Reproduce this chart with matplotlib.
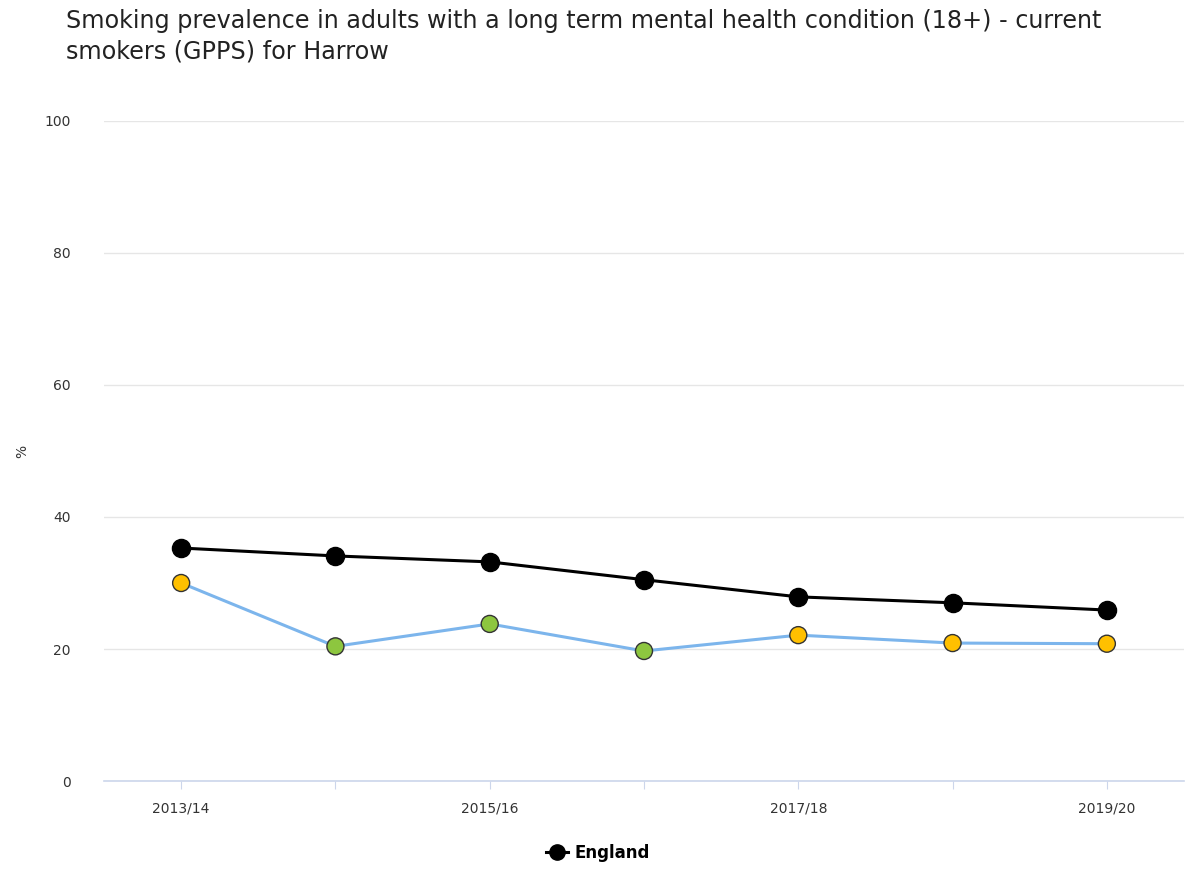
import numpy as np
import matplotlib
matplotlib.use("Agg")
import matplotlib.pyplot as plt
from matplotlib.lines import Line2D

periods = ["2013/14", "2014/15", "2015/16", "2016/17", "2017/18", "2018/19", "2019/20"]
england = [35.3, 34.1, 33.2, 30.5, 27.9, 27.0, 25.9]
harrow = [30.0, 20.4, 23.8, 19.7, 22.1, 20.9, 20.8]
harrow_colors = ["#ffc000", "#8dc63f", "#8dc63f", "#8dc63f", "#ffc000", "#ffc000", "#ffc000"]
yticks = [0, 20, 40, 60, 80, 100]

fig = plt.figure(figsize=(11.88, 8.71), dpi=100)
ax = fig.add_axes([104 / 1188, 1 - 781 / 871, 1080 / 1188, 660 / 871])

x = np.arange(len(periods))

ax.plot(x, harrow, color="#7cb5ec", lw=2.2, zorder=2)
ax.scatter(x, harrow, s=150, c=harrow_colors, edgecolors="#333333", linewidths=1.0, zorder=3)

ax.plot(x, england, color="black", lw=2.2, zorder=4)
ax.scatter(x, england, s=170, c="black", edgecolors="black", zorder=5)

ax.set_xlim(-0.5, len(periods) - 0.5)
ax.set_ylim(0, 100)
ax.set_yticks(yticks)
ax.set_yticklabels([str(v) for v in yticks])
ax.set_xticks(x)
ax.set_xticklabels([p if i % 2 == 0 else "" for i, p in enumerate(periods)])

ax.grid(axis="y", color="#e6e6e6", lw=1)
ax.set_axisbelow(True)
for s in ["top", "right", "left"]:
    ax.spines[s].set_visible(False)
ax.spines["bottom"].set_color("#ccd6eb")
ax.spines["bottom"].set_linewidth(1.2)
ax.tick_params(axis="y", length=0, pad=24, labelsize=10, labelcolor="#333333")
ax.tick_params(axis="x", length=6, color="#ccd6eb", pad=9, labelsize=10, labelcolor="#333333")

fig.text(22 / 1188, 1 - 451 / 871, "%", rotation=90, ha="center", va="center",
         fontsize=10, color="#333333")

fig.text(66 / 1188, 1 - 9 / 871,
         "Smoking prevalence in adults with a long term mental health condition (18+) - current\nsmokers (GPPS) for Harrow",
         ha="left", va="top", fontsize=17.2, color="#222222", linespacing=1.35)

handle = Line2D([], [], color="black", lw=2.2, marker="o", markersize=11)
fig.legend(handles=[handle], labels=["England"], loc="center", bbox_to_anchor=(598 / 1188, 1 - 853 / 871),
           frameon=False, handlelength=1.3, handletextpad=0.4,
           prop={"weight": "bold", "size": 12})

fig.savefig("out.png", dpi=100)
